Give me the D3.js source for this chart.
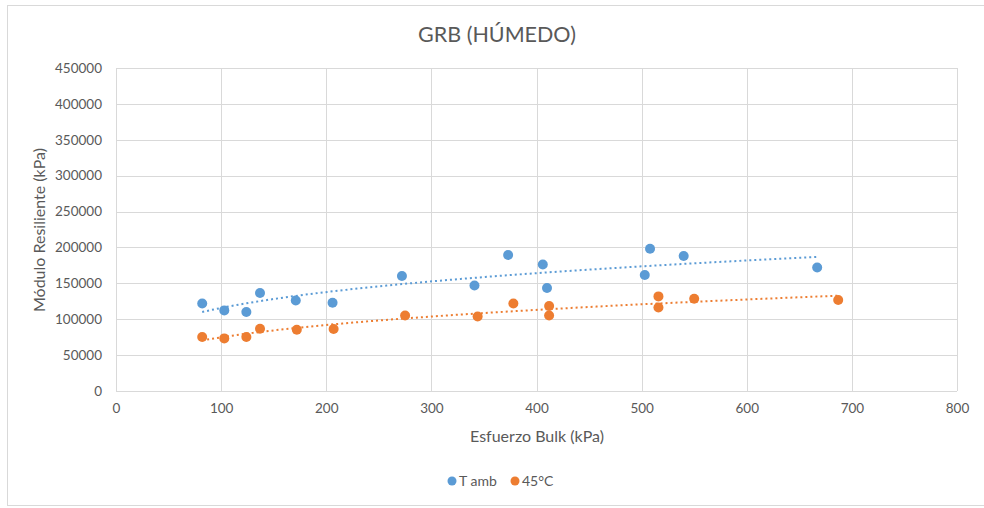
<!DOCTYPE html>
<html>
<head>
<meta charset="utf-8">
<script src="https://cdn.jsdelivr.net/npm/d3@7"></script>
<style>
  body { margin: 0; background: #fff; }
  svg text { font-family: Lato, "Liberation Sans", sans-serif; fill: #595959; }
</style>
</head>
<body>
<div id="chart"></div>
<script>
// data
const tambX = [82, 103, 124, 137, 171, 206, 272, 341, 373, 406, 410, 508, 503, 540, 667];
const tambY = [122000, 112300, 110000, 136500, 126200, 123000, 160200, 147100, 189400, 176300, 143500, 198200, 161600, 188000, 172100];
const c45X = [82, 103, 124, 137, 172, 207, 275, 344, 378, 412, 412, 516, 516, 550, 687];
const c45Y = [75200, 73300, 75200, 86800, 85400, 86300, 105300, 103900, 122000, 118400, 105300, 131800, 116400, 128600, 126700];
const xTicks = [0, 100, 200, 300, 400, 500, 600, 700, 800];
const yTicks = [0, 50000, 100000, 150000, 200000, 250000, 300000, 350000, 400000, 450000];

const series = [
  { name: 'T amb', color: '#5B9BD5', xs: tambX, ys: tambY },
  { name: '45°C', color: '#ED7D31', xs: c45X, ys: c45Y }
];

const W = 984, H = 508;
const margin = { top: 68, left: 116, right: 27, bottom: 117 };
const width = W - margin.left - margin.right;
const height = H - margin.top - margin.bottom;

const svg = d3.select('#chart').append('svg')
    .attr('width', W)
    .attr('height', H);

// outer chart border
svg.append('rect')
    .attr('x', 7.5).attr('y', 5.5)
    .attr('width', 1000).attr('height', 500)
    .attr('fill', '#fff').attr('stroke', '#D9D9D9');

svg.append('text')
    .attr('x', 497).attr('y', 42)
    .attr('text-anchor', 'middle')
    .style('font-size', '21.5px')
    .text('GRB (HÚMEDO)');

const x = d3.scaleLinear().domain([0, 800]).range([0, width]);
const y = d3.scaleLinear().domain([0, 450000]).range([height, 0]);

const g = svg.append('g').attr('transform', `translate(${margin.left}, ${margin.top})`);

// gridlines
g.append('g').selectAll('line.h').data(yTicks).enter().append('line')
    .attr('x1', 0).attr('x2', width)
    .attr('y1', d => Math.round(y(d)) + 0.5).attr('y2', d => Math.round(y(d)) + 0.5)
    .attr('stroke', '#D9D9D9').attr('stroke-width', 1);
g.append('g').selectAll('line.v').data(xTicks).enter().append('line')
    .attr('y1', 0).attr('y2', height)
    .attr('x1', d => Math.round(x(d)) + 0.5).attr('x2', d => Math.round(x(d)) + 0.5)
    .attr('stroke', '#D9D9D9').attr('stroke-width', 1);

// axes (labels only)
const xAxis = g.append('g')
    .attr('transform', `translate(0, ${height})`)
    .call(d3.axisBottom(x).tickValues(xTicks).tickSize(0).tickPadding(12).tickFormat(d3.format('d')));
const yAxis = g.append('g')
    .call(d3.axisLeft(y).tickValues(yTicks).tickSize(0).tickPadding(14).tickFormat(d3.format('d')));
[xAxis, yAxis].forEach(a => {
  a.select('.domain').remove();
  a.selectAll('text').style('font-size', '13.5px').attr('fill', '#595959');
});
g.append('line')
    .attr('x1', 0).attr('x2', width)
    .attr('y1', height + 0.5).attr('y2', height + 0.5)
    .attr('stroke', '#D9D9D9');

// power trendlines y = a * x^b (least squares in log-log)
function powerFit(xs, ys) {
  const lx = xs.map(Math.log), ly = ys.map(Math.log);
  const mx = d3.mean(lx), my = d3.mean(ly);
  const b = d3.sum(lx, (v, i) => (v - mx) * (ly[i] - my)) / d3.sum(lx, v => (v - mx) * (v - mx));
  const a = Math.exp(my - b * mx);
  return t => a * Math.pow(t, b);
}

series.forEach(s => {
  const f = powerFit(s.xs, s.ys);
  const x0 = d3.min(s.xs), x1 = d3.max(s.xs);
  const pts = d3.range(0, 51).map(i => x0 + (x1 - x0) * i / 50);
  g.append('path')
      .datum(pts)
      .attr('fill', 'none')
      .attr('stroke', s.color)
      .attr('stroke-width', 2)
      .attr('stroke-dasharray', '2,3')
      .attr('d', d3.line().x(d => x(d)).y(d => y(f(d))));
});

series.forEach(s => {
  g.append('g').selectAll('circle').data(s.xs).enter().append('circle')
      .attr('cx', d => x(d))
      .attr('cy', (d, i) => y(s.ys[i]))
      .attr('r', 5)
      .attr('fill', s.color);
});

// axis titles
svg.append('text')
    .attr('x', 537).attr('y', 442)
    .attr('text-anchor', 'middle')
    .style('font-size', '16px')
    .text('Esfuerzo Bulk (kPa)');
svg.append('text')
    .attr('transform', 'translate(45, 230) rotate(-90)')
    .attr('text-anchor', 'middle')
    .style('font-size', '16px')
    .text('Módulo Resiliente (kPa)');

// legend
const legend = svg.append('g').attr('transform', 'translate(452, 481)');
const items = legend.selectAll('g').data(series).enter().append('g')
    .attr('transform', (d, i) => `translate(${i * 63}, 0)`);
items.append('circle').attr('r', 4.5).attr('fill', d => d.color);
items.append('text')
    .attr('x', 7).attr('y', 5)
    .style('font-size', '14px')
    .text(d => d.name);
</script>
</body>
</html>
